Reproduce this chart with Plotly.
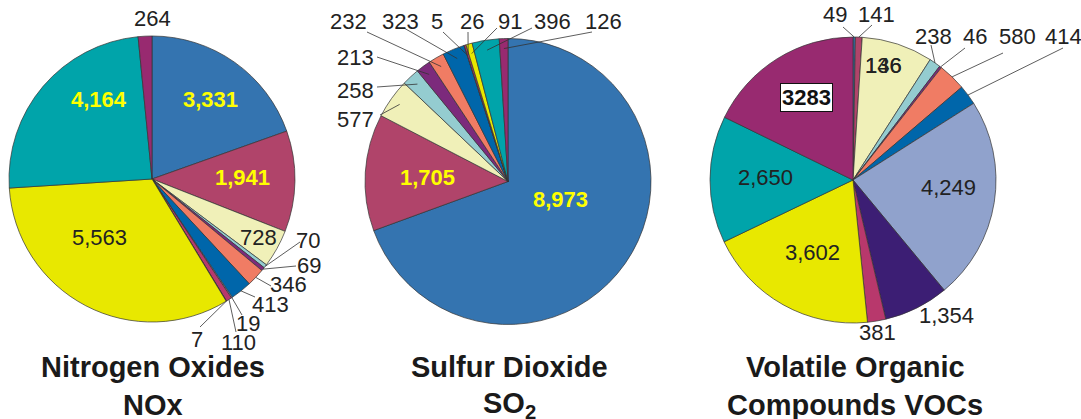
import math
import plotly.graph_objects as go

W, H = 1081, 419

# ---------------- data ----------------
# emission source categories (shared colour scheme across the three pies)
nox_cats = ["A", "B", "C", "D", "E", "F", "G", "H", "J", "I", "K", "L", "M"]
nox_values = [3331, 1941, 728, 70, 69, 346, 413, 19, 110, 7, 5563, 4164, 264]
nox_text = ["3,331", "1,941", "728", "70", "69", "346", "413", "19", "110", "7", "5,563", "4,164", "264"]

so2_cats = ["A", "B", "C", "D", "E", "F", "G", "H", "J", "K", "L", "M"]
so2_values = [8973, 1705, 577, 258, 213, 232, 323, 5, 26, 91, 396, 126]
so2_text = ["8,973", "1,705", "577", "258", "213", "232", "323", "5", "26", "91", "396", "126"]

voc_cats = ["A", "B", "C", "D", "E", "F", "G", "H", "I", "J", "K", "L", "M"]
voc_values = [49, 141, 1486, 238, 46, 580, 414, 4249, 1354, 381, 3602, 2650, 3283]
voc_text = ["49", "141", "136", "238", "46", "580", "414", "4,249", "1,354", "381", "3,602", "2,650", "3283"]

titles = [("Nitrogen Oxides", "NOx"), ("Sulfur Dioxide", "SO<sub>2</sub>"),
          ("Volatile Organic", "Compounds VOCs")]

# ---------------- styles ----------------
cat_colors = {
    "A": "#3474B0", "B": "#B0446A", "C": "#F0F0B8", "D": "#94CCD0",
    "E": "#7C2A7C", "F": "#F07C64", "G": "#0066AA", "H": "#90A2CC",
    "I": "#3C1E74", "J": "#B8386C", "K": "#E8E800", "L": "#00A4AA",
    "M": "#982A70",
}
FONT = "Liberation Sans, Arial, Helvetica, sans-serif"
R = 143
centers = [(152, 179), (508, 181.5), (853, 180)]
lead_r = [1.0, 0.93, 1.0]

# label placement: index -> (style, text x, text y, leader end or None)
label_layout = [
    {
        0: ("yb", 210, 99, None), 1: ("yb", 242, 177, None), 2: ("d", 258, 237, None),
        3: ("d", 308, 240, (300, 242)), 4: ("d", 309, 265, (296, 266)),
        5: ("d", 288, 284, (271, 286)), 6: ("d", 270, 304, (255, 297)),
        7: ("d", 248, 323, (242, 315)), 8: ("d", 238, 342, (236, 332)),
        9: ("d", 197, 339, (200, 327)), 10: ("d", 99, 237, None),
        11: ("yb", 99, 99, None), 12: ("d", 152, 18, None),
    },
    {
        0: ("yb", 560, 200, None), 1: ("yb", 427, 177, None),
        2: ("d", 355, 120, (380, 115)), 3: ("d", 355, 90, (377, 87)),
        4: ("d", 355, 58, (377, 57)), 5: ("d", 348, 22, (367, 32)),
        6: ("d", 400, 22, (404, 28)), 7: ("d", 437, 22, (443, 32)),
        8: ("d", 472, 22, (468, 32)), 9: ("d", 510, 22, (497, 28)),
        10: ("d", 552, 22, (532, 28)), 11: ("d", 603, 22, (592, 32)),
    },
    {
        0: ("d", 835, 15, (843, 27)), 1: ("d", 876, 15, (872, 25)),
        2: ("d", 883, 65, None), 3: ("d", 933, 36, (931, 45)),
        4: ("d", 975, 36, (965, 48)), 5: ("d", 1017, 36, (1003, 53)),
        6: ("d", 1063, 36, (1063, 48)), 7: ("d", 948, 187, None),
        8: ("d", 946, 315, None), 9: ("d", 877, 332, None),
        10: ("d", 812, 252, None), 11: ("d", 765, 177, None),
        12: ("box", 806, 97, None),
    },
]


def px(x):
    return x / W


def py(y):
    return 1 - y / H


fig = go.Figure()
pies = [(nox_cats, nox_values, nox_text), (so2_cats, so2_values, so2_text),
        (voc_cats, voc_values, voc_text)]

shapes = []
annotations = []

for k, (cats, vals, texts) in enumerate(pies):
    cx, cy = centers[k]
    fig.add_trace(go.Pie(
        labels=[f"{c}{k}" for c in cats], values=vals,
        marker=dict(colors=[cat_colors[c] for c in cats],
                    line=dict(color="#333333", width=0.7)),
        sort=False, direction="clockwise", rotation=0,
        textinfo="none", hoverinfo="skip", showlegend=False,
        domain=dict(x=[px(cx - R), px(cx + R)], y=[py(cy + R), py(cy - R)]),
    ))
    total = sum(vals)
    cum = 0
    for i, v in enumerate(vals):
        mid = (cum + v / 2) / total * 2 * math.pi
        cum += v
        style, tx, ty, lead = label_layout[k][i]
        if lead is not None:
            x0 = cx + lead_r[k] * R * math.sin(mid)
            y0 = cy - lead_r[k] * R * math.cos(mid)
            shapes.append(dict(type="line", xref="paper", yref="paper",
                               x0=px(x0), y0=py(y0), x1=px(lead[0]), y1=py(lead[1]),
                               line=dict(color="#333333", width=0.8)))
        if style == "yb":
            font = dict(family=FONT, size=22, color="#FFFF00", weight="bold")
            extra = {}
        elif style == "box":
            font = dict(family=FONT, size=22, color="#111111", weight="bold")
            extra = dict(bgcolor="white", bordercolor="#111111", borderwidth=1, borderpad=1)
        else:
            font = dict(family=FONT, size=22, color="#222222")
            extra = {}
        annotations.append(dict(x=px(tx), y=py(ty), xref="paper", yref="paper",
                                text=texts[i], showarrow=False, font=font,
                                xanchor="center", yanchor="middle", **extra))
        if k == 2 and i == 2:
            # overlapping second label drawn on the same spot in the original
            annotations.append(dict(x=px(tx), y=py(ty), xref="paper", yref="paper",
                                    text="146", showarrow=False, font=font,
                                    xanchor="center", yanchor="middle"))

# titles
title_x = [152.5, 509.5, 855]
for k, (l1, l2) in enumerate(titles):
    for j, t in enumerate((l1, l2)):
        annotations.append(dict(x=px(title_x[k]), y=py(367 + 38 * j), xref="paper", yref="paper",
                                text=t, showarrow=False,
                                font=dict(family=FONT, size=29, color="#1a1a1a", weight="bold"),
                                xanchor="center", yanchor="middle"))

fig.update_layout(
    width=W, height=H, margin=dict(l=0, r=0, t=0, b=0),
    paper_bgcolor="white", plot_bgcolor="white",
    shapes=shapes, annotations=annotations,
)

fig.write_html("out.html", config={"displayModeBar": False},
               post_script="document.body.style.margin='0';")
